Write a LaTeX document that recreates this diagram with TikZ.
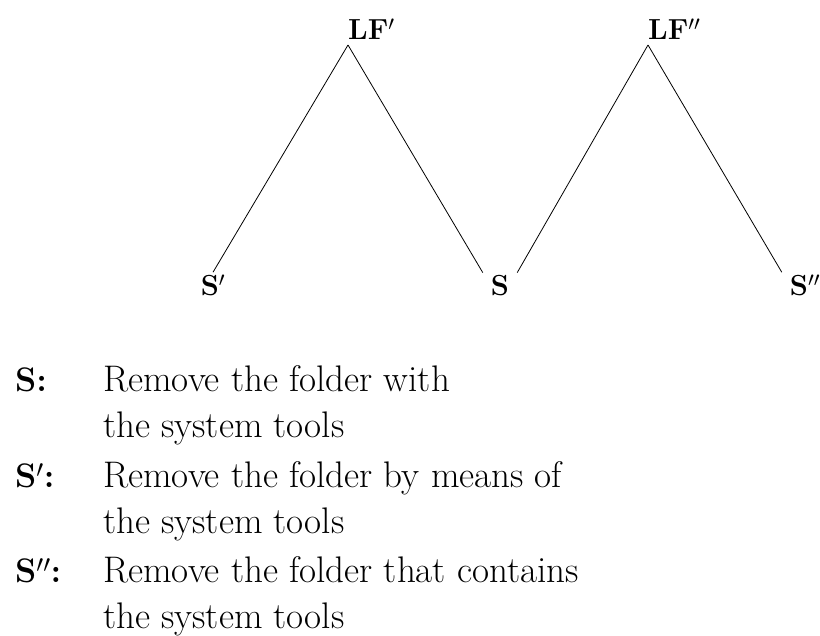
\documentclass[tikz,border=0pt]{standalone}
\usepackage{amsmath}
\usepackage{tikz}
\newcommand{\treetext}{\fontsize{29}{32}\selectfont\bfseries}
\newcommand{\glosslabel}{\fontsize{34}{46}\selectfont\bfseries}
\newcommand{\glosstext}{\fontsize{37}{46}\selectfont}

\begin{document}
\begin{tikzpicture}[x=1pt,y=-1pt,font=\treetext,
  root/.style={anchor=south west,inner xsep=0pt,inner ysep=5pt},
  leaf/.style={anchor=base,inner xsep=8pt,inner ysep=3pt},
  branch/.style={line width=0.8pt,color=black},
  glosskey/.style={anchor=base west,inner sep=0pt,font=\glosslabel},
  glossline/.style={anchor=base west,inner sep=0pt,font=\glosstext}]
\useasboundingbox (0,0) rectangle (820,636);

% tree
\node[root] (lf1) at (348,45) {LF$'$};
\node[root] (lf2) at (648,45) {LF$''$};
\node[leaf] (s1) at (213,296) {S$'$};
\node[leaf] (s0) at (500,296) {S};
\node[leaf] (s2) at (805,296) {S$''$};

\draw[branch] (lf1.south west) -- (s1.north);
\draw[branch] (lf1.south west) -- (s0.north west);
\draw[branch] (lf2.south west) -- (s0.north east);
\draw[branch] (lf2.south west) -- (s2.north west);

% glosses
\node[glosskey] (k0) at (15,392) {S:};
\node[glossline] (g0a) at (103,392) {Remove the folder with};
\node[glossline] (g0b) at (103,438) {the system tools};
\node[glosskey] (k1) at (15,487) {S$'$:};
\node[glossline] (g1a) at (103,487) {Remove the folder by means of};
\node[glossline] (g1b) at (103,533) {the system tools};
\node[glosskey] (k2) at (15,582) {S$''$:};
\node[glossline] (g2a) at (103,582) {Remove the folder that contains};
\node[glossline] (g2b) at (103,628) {the system tools};
\end{tikzpicture}
\end{document}
